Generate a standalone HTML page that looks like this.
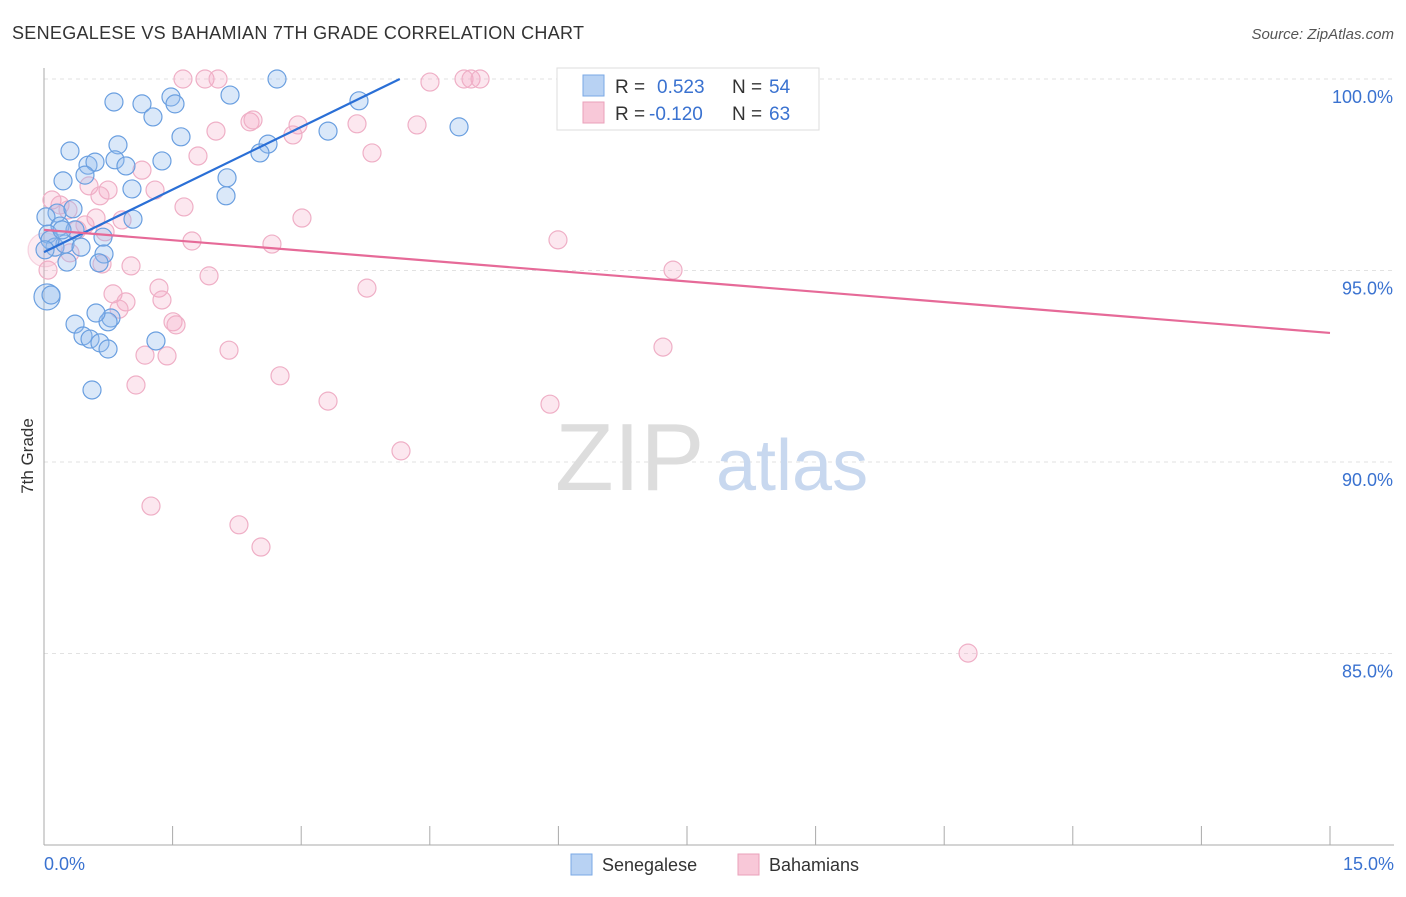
<!DOCTYPE html>
<html><head><meta charset="utf-8"><style>
body{margin:0;background:#fff;font-family:"Liberation Sans",sans-serif;}
svg text{font-family:"Liberation Sans",sans-serif;}
</style></head><body>
<svg id="chart" width="1406" height="892" xmlns="http://www.w3.org/2000/svg">
<text x="12" y="39" font-size="18" fill="#333" textLength="572">SENEGALESE VS BAHAMIAN 7TH GRADE CORRELATION CHART</text>
<text x="1394" y="39" font-size="15" fill="#555" text-anchor="end" font-style="italic">Source: ZipAtlas.com</text>
<text transform="translate(33,456) rotate(-90)" font-size="17" fill="#333" text-anchor="middle">7th Grade</text>
<g id="grid"></g>
<text x="555" y="490" font-size="96" fill="#ddd" font-family="Liberation Serif">ZIP</text>
<text x="716" y="490" font-size="72" fill="#c8d8ef">atlas</text>
<g id="pts"></g>
<g id="lines"></g>
<g>
<rect x="557" y="68" width="262" height="62" fill="#fff" stroke="#ddd"/>
<rect x="583" y="75" width="21" height="21" fill="#b8d2f3" stroke="#7aa8e6"/>
<rect x="583" y="102" width="21" height="21" fill="#f8c8d8" stroke="#eaa0ba"/>
<text x="615" y="93" font-size="19" fill="#333">R =</text><text x="657" y="93" font-size="19" fill="#3a72d0">0.523</text>
<text x="732" y="93" font-size="19" fill="#333">N =</text><text x="769" y="93" font-size="19" fill="#3a72d0">54</text>
<text x="615" y="120" font-size="19" fill="#333">R =</text><text x="649" y="120" font-size="19" fill="#3a72d0">-0.120</text>
<text x="732" y="120" font-size="19" fill="#333">N =</text><text x="769" y="120" font-size="19" fill="#3a72d0">63</text>
</g>
<g>
<rect x="571" y="854" width="21" height="21" fill="#b8d2f3" stroke="#7aa8e6"/>
<text x="602" y="871" font-size="18" fill="#333">Senegalese</text>
<rect x="738" y="854" width="21" height="21" fill="#f8c8d8" stroke="#eaa0ba"/>
<text x="769" y="871" font-size="18" fill="#333">Bahamians</text>
</g>
</svg>
<script>
const xTicks=[0,15];
const yTicks=[85,90,95,100];
const blueX=[];const blueY=[];const pinkX=[];const pinkY=[];
const bluePx=[[277,79],[114,102],[142,104],[171,97],[175,104],[153,117],[230,95],[359,101],[181,137],[328,131],[459,127],[118,145],[70,151],[115,160],[162,161],[88,165],[95,162],[126,166],[85,175],[63,181],[227,178],[268,144],[260,153],[132,189],[226,196],[57,213],[73,209],[133,219],[46,217],[60,226],[48,234],[75,230],[103,237],[55,247],[65,244],[81,247],[104,254],[67,262],[99,263],[47,297],[51,295],[75,324],[111,318],[108,322],[96,313],[83,336],[90,339],[100,343],[108,349],[156,341],[92,390],[50,240],[62,230],[45,250]];
const pinkPx=[[183,79],[205,79],[218,79],[430,82],[464,79],[471,79],[480,79],[686,79],[216,131],[250,122],[253,120],[298,125],[357,124],[417,125],[293,135],[198,156],[372,153],[142,170],[89,186],[108,190],[155,190],[100,196],[184,207],[302,218],[122,220],[96,218],[52,200],[60,205],[68,210],[85,225],[77,230],[105,232],[192,241],[272,244],[558,240],[70,253],[102,264],[131,266],[209,276],[673,270],[48,270],[159,288],[162,300],[367,288],[113,294],[126,302],[119,309],[173,322],[176,325],[229,350],[145,355],[167,356],[663,347],[280,376],[136,385],[328,401],[550,404],[401,451],[151,506],[239,525],[261,547],[968,653],[45,250]];
// values derived from reading the picture
bluePx.forEach(p=>{blueX.push(+((p[0]-44)/1286*15).toFixed(3));blueY.push(+(100-(p[1]-79)/38.3).toFixed(2));});
pinkPx.forEach(p=>{pinkX.push(+((p[0]-44)/1286*15).toFixed(3));pinkY.push(+(100-(p[1]-79)/38.3).toFixed(2));});
const blueLine=[[0,95.48],[4.15,100]];
const pinkLine=[[0,96.06],[15,93.37]];
const NS="http://www.w3.org/2000/svg";
const X=v=>44+v/15*1286, Y=v=>79+(100-v)*38.3;
function mk(t,a,parent){const e=document.createElementNS(NS,t);for(const k in a)e.setAttribute(k,a[k]);parent.appendChild(e);return e;}
const g=document.getElementById('grid');
yTicks.forEach(v=>{
 const l=mk('line',{x1:44,x2:1394,y1:Y(v),y2:Y(v),stroke:'#e2e2e2','stroke-dasharray':'4,4'},g);
 
 
 const t=mk('text',{x:1393,y:Y(v)+24,'font-size':18,fill:'#3a72d0','text-anchor':'end'},g);t.textContent=v.toFixed(1)+'%';
 
 
});
mk('line',{x1:44,x2:44,y1:68,y2:845,stroke:'#aaa'},g);
mk('line',{x1:44,x2:1394,y1:845,y2:845,stroke:'#aaa'},g);
for(let i=1;i<=10;i++){const x=44+i*128.6;mk('line',{x1:x,x2:x,y1:826,y2:845,stroke:'#aaa'},g);}
xTicks.forEach((v,i)=>{const t=mk('text',{x:i?1394:44,y:870,'font-size':18,fill:'#3a72d0','text-anchor':i?'end':'start'},g);t.textContent=v.toFixed(1)+'%';
 
 });
const P=document.getElementById('pts');
pinkX.forEach((v,i)=>{const big=i==pinkX.length-1;const c=mk('circle',{cx:X(v),cy:Y(pinkY[i]),r:big?17:9,fill:big?'rgba(244,170,196,0.22)':'rgba(244,170,196,0.28)',stroke:big?'rgba(235,160,187,0.4)':'#efafc6','stroke-width':1.2},P);
 
 });
blueX.forEach((v,i)=>{const c=mk('circle',{cx:X(v),cy:Y(blueY[i]),r:(i==39)?13:9,fill:'rgba(150,188,238,0.35)',stroke:'#6a9fe0','stroke-width':1.2},P);
 
 });
const L=document.getElementById('lines');
const bl=mk('line',{x1:X(blueLine[0][0]),y1:Y(blueLine[0][1]),x2:X(blueLine[1][0]),y2:Y(blueLine[1][1]),stroke:'#2a6fd6','stroke-width':2.2},L);


const pl=mk('line',{x1:X(pinkLine[0][0]),y1:Y(pinkLine[0][1]),x2:X(pinkLine[1][0]),y2:Y(pinkLine[1][1]),stroke:'#e66a98','stroke-width':2.2},L);


</script>
</body></html>
